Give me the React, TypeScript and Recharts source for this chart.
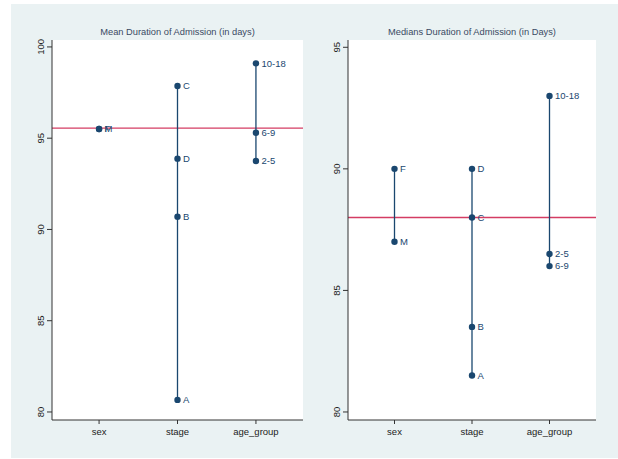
import React from "react";
import {
  ScatterChart,
  Scatter,
  XAxis,
  YAxis,
  ReferenceLine,
  LabelList,
} from "recharts";

const groups = ["sex", "stage", "age_group"];

const sexLabels = ["F", "M"];
const stageLabels = ["A", "B", "C", "D"];
const ageLabels = ["2-5", "6-9", "10-18"];

// mean duration (days)
const meanSex = [95.5, 95.5];
const meanStage = [80.66, 90.7, 97.86, 93.88];
const meanAge = [93.75, 95.3, 99.1];
const overallMean = 95.55;

// median duration (days)
const medianSex = [90, 87];
const medianStage = [81.5, 83.5, 88, 90];
const medianAge = [86.5, 86, 93];
const overallMedian = 88;

const meanTicks = [80, 85, 90, 95, 100];
const medianTicks = [80, 85, 90, 95];

const NAVY = "#1a476f";
const RED = "#d43c63";
const BG = "#eaf2f3";
const FONT = "'Liberation Sans', Arial, sans-serif";

type Pt = { x: number; y: number; label: string };

function toPoints(groupIdx: number, labels: string[], values: number[]): Pt[] {
  return labels
    .map((label, i) => ({ x: groupIdx + 1, y: values[i], label }))
    .sort((a, b) => a.y - b.y);
}

const Dot = (props: any) => (
  <circle cx={props.cx} cy={props.cy} r={3.2} fill={NAVY} />
);

const YTick = (props: any) => {
  const { x, y, payload } = props;
  return (
    <g transform={`translate(${x - 4},${y})`}>
      <text
        transform="rotate(-90)"
        textAnchor="middle"
        dominantBaseline="central"
        fontSize={9.5}
        fontFamily={FONT}
        fill="#222"
      >
        {payload.value}
      </text>
    </g>
  );
};

type PanelProps = {
  title: string;
  left: number;
  width: number;
  rightMargin: number;
  yWidth: number;
  domain: [number, number];
  ticks: number[];
  refY: number;
  series: Pt[][];
};

function Panel({ title, left, width, rightMargin, yWidth, domain, ticks, refY, series }: PanelProps) {
  const plotLeft = yWidth;
  const plotRight = width - rightMargin;
  return (
    <div style={{ position: "absolute", left, top: 4, width, height: 454 }}>
      <div
        style={{
          position: "absolute",
          left: plotLeft,
          width: plotRight - plotLeft,
          top: 23,
          textAlign: "center",
          fontSize: 9.3,
          fontFamily: FONT,
          color: "#3a4a63",
        }}
      >
        {title}
      </div>
      <ScatterChart
        width={width}
        height={454}
        margin={{ top: 36, right: rightMargin, bottom: 12, left: 0 }}
      >
        <rect x={plotLeft} y={36} width={plotRight - plotLeft} height={380} fill="#fff" />
        <XAxis
          type="number"
          dataKey="x"
          domain={[0.4, 3.6]}
          ticks={[1, 2, 3]}
          tickFormatter={(v: number) => groups[v - 1]}
          height={26}
          tickSize={4}
          tickMargin={4}
          axisLine={{ stroke: "#333", strokeWidth: 1 }}
          tickLine={{ stroke: "#333" }}
          tick={{ fontSize: 9.5, fontFamily: FONT, fill: "#222" }}
          allowDataOverflow
        />
        <YAxis
          type="number"
          dataKey="y"
          domain={domain}
          ticks={ticks}
          width={yWidth}
          tickSize={5}
          tickMargin={3}
          axisLine={{ stroke: "#333", strokeWidth: 1 }}
          tickLine={{ stroke: "#333" }}
          tick={<YTick />}
          allowDataOverflow
        />
        <ReferenceLine y={refY} stroke={RED} strokeWidth={1.4} />
        {series.map((pts, i) => (
          <Scatter
            key={i}
            data={pts}
            shape={<Dot />}
            line={{ stroke: NAVY, strokeWidth: 1.3 }}
            lineType="joint"
            isAnimationActive={false}
          >
            <LabelList
              dataKey="label"
              position="right"
              offset={1}
              style={{ fontSize: 9.5, fontFamily: FONT, fill: NAVY }}
            />
          </Scatter>
        ))}
      </ScatterChart>
    </div>
  );
}

export default function App() {
  const meanSeries = [
    toPoints(0, sexLabels, meanSex),
    toPoints(1, stageLabels, meanStage),
    toPoints(2, ageLabels, meanAge),
  ];
  const medianSeries = [
    toPoints(0, sexLabels, medianSex),
    toPoints(1, stageLabels, medianStage),
    toPoints(2, ageLabels, medianAge),
  ];
  return (
    <div
      style={{
        position: "fixed",
        left: 0,
        top: 0,
        width: 618,
        height: 459,
        background: "#fff",
      }}
    >
      <div
        style={{
          position: "absolute",
          left: 11,
          top: 4,
          width: 607,
          height: 454,
          background: BG,
        }}
      />
      <Panel
        title="Mean Duration of Admission (in days)"
        left={11}
        width={297}
        rightMargin={5}
        yWidth={41}
        domain={[79.56, 100.38]}
        ticks={meanTicks}
        refY={overallMean}
        series={meanSeries}
      />
      <Panel
        title="Medians Duration of Admission (in Days)"
        left={308}
        width={310}
        rightMargin={22}
        yWidth={40}
        domain={[79.67, 95.3]}
        ticks={medianTicks}
        refY={overallMedian}
        series={medianSeries}
      />
    </div>
  );
}
